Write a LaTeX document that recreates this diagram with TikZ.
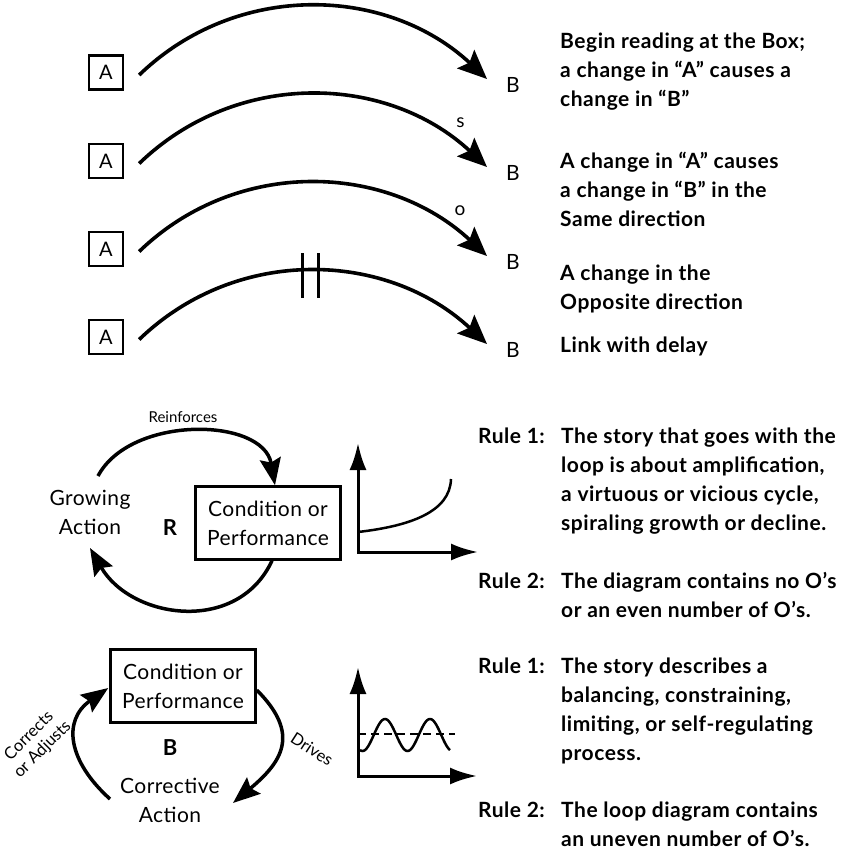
\documentclass[tikz,border=0pt]{standalone}
\usepackage{fontspec}
\setmainfont{Lato}
\usetikzlibrary{arrows.meta,calc}
\begin{document}
\begin{tikzpicture}[x=1pt,y=-1pt,
  abox/.style={draw,line width=2.4pt,minimum width=34pt,minimum height=34pt,inner sep=0pt,font=\fontsize{20}{22}\selectfont},
  bnode/.style={inner sep=0pt,font=\fontsize{21}{24}\selectfont},
  link/.style={line width=3.6pt,-{Stealth[length=29pt,width=25pt,inset=5pt]}},
  desc/.style={anchor=north west,inner sep=0pt,align=left,font=\bfseries\addfontfeatures{LetterSpace=2.5}\fontsize{21}{29}\selectfont},
  pol/.style={inner sep=0pt,font=\fontsize{19}{20}\selectfont},
  cbox/.style={draw,line width=2.5pt,minimum width=145pt,minimum height=73pt,align=center,inner sep=0pt,font=\addfontfeatures{LetterSpace=2}\fontsize{21}{29}\selectfont},
  var/.style={align=center,inner sep=0pt,font=\addfontfeatures{LetterSpace=2}\fontsize{21}{29}\selectfont},
  loopmark/.style={font=\bfseries\fontsize{22}{24}\selectfont,inner sep=0pt},
  lbl/.style={inner sep=0pt,align=center,font=\fontsize{15}{18}\selectfont},
  slbl/.style={inner sep=0pt,align=center,font=\fontsize{16.5}{19}\selectfont},
  loopa/.style={line width=3.5pt,-{Stealth[length=27pt,width=21pt,inset=4pt]}},
  axes/.style={line width=3pt,{Latex[length=27pt,width=17pt]}-{Latex[length=27pt,width=17pt]}},
  curve/.style={line width=2.5pt},
  delaymark/.style={line width=3pt},
  refline/.style={line width=1.5pt,dash pattern=on 8pt off 5pt},
]
\useasboundingbox (0,0) rectangle (841,853);

% ---------- link legend ----------
\node[abox] (A1) at (106,72.5) {A};
\node[abox] (A2) at (106,161) {A};
\node[abox] (A3) at (106,249) {A};
\node[abox] (A4) at (106,337) {A};
\node[bnode] (B1) at (513,85) {B};
\node[bnode] (B2) at (513,173) {B};
\node[bnode] (B3) at (513,262) {B};
\node[bnode] (B4) at (513,350) {B};

\foreach \i in {1,2,3,4}{
  \draw[link] ($(A\i.east)+(15,2.5)$) to[out=44,in=137] ($(B\i.center)+(-26,-6)$);
}
\node[pol] (s) at (460.5,123) {s};
\node[pol] (o) at (460,211) {o};
\draw[delaymark] (302,253) -- (302,298);
\draw[delaymark] (318,253) -- (318,298);

\node[desc] (t1) at (560,27.7) {\strut Begin reading at the Box;\\a change in “A” causes a\\change in “B”};
\node[desc] (t2) at (560,147.7) {\strut A change in “A” causes\\a change in “B” in the\\Same direction};
\node[desc] (t3) at (560,259.7) {\strut A change in the\\Opposite direction};
\node[desc] (t4) at (560,331.7) {\strut Link with delay};

% ---------- reinforcing loop ----------
\node[cbox] (rc) at (268,523) {Condition or\\Performance};
\node[var] (ga) at (90,512) {Growing\\Action};
\node[loopmark] (rm) at (170,528) {R};
\node[lbl] (rf) at (183,417) {Reinforces};
\draw[loopa] ($(ga.center)+(8,-36)$) to[out=62,in=100] ($(rc.north)+(7,0)$);
\draw[loopa] ($(rc.south)+(4,0)$) to[out=-115,in=-60,looseness=1.15] ($(ga.center)+(0,36)$);

\coordinate (o1) at (358,552);
\draw[axes] ($(o1)+(0,-109)$) -- (o1) -- ++(120,0);
\draw[curve] ($(o1)+(0,-20)$) .. controls (410,526) and (450,512) .. (451,479);

% ---------- balancing loop ----------
\node[cbox] (bc) at (183,686) {Condition or\\Performance};
\node[loopmark] (bm) at (170,748) {B};
\node[var] (ca) at (170,800) {Corrective\\Action};
\draw[loopa] ($(ca.center)+(-60,-1)$) to[out=138,in=215,looseness=1.3] ($(bc.west)+(-1,2)$);
\draw[loopa] ($(bc.east)+(0,4)$) to[out=-45,in=40,looseness=1.4] ($(ca.center)+(63,3)$);
\node[slbl,rotate=45] (cl) at (36,743) {Corrects\\or Adjusts};
\node[slbl,rotate=-33] (dl) at (312,749) {Drives};

\coordinate (o2) at (358,776);
\draw[axes] ($(o2)+(0,-109)$) -- (o2) -- ++(119,0);
\draw[refline] (358,734) -- (455,734);
\draw[curve] plot[domain=360:450,samples=80,smooth] (\x,{735-16*sin((\x-373.75)*8)});

% ---------- rules ----------
\node[desc] (r1) at (478,422.7) {\strut Rule 1:};
\node[desc] (r1t) at (561,422.7) {\strut The story that goes with the\\loop is about amplification,\\a virtuous or vicious cycle,\\spiraling growth or decline.};
\node[desc] (r2) at (478,567.7) {\strut Rule 2:};
\node[desc] (r2t) at (561,567.7) {\strut The diagram contains no O’s\\or an even number of O’s.};
\node[desc] (r3) at (478,652.7) {\strut Rule 1:};
\node[desc] (r3t) at (561,652.7) {\strut The story describes a\\balancing, constraining,\\limiting, or self-regulating\\process.};
\node[desc] (r4) at (478,796.7) {\strut Rule 2:};
\node[desc] (r4t) at (561,796.7) {\strut The loop diagram contains\\an uneven number of O’s.};
\end{tikzpicture}
\end{document}
